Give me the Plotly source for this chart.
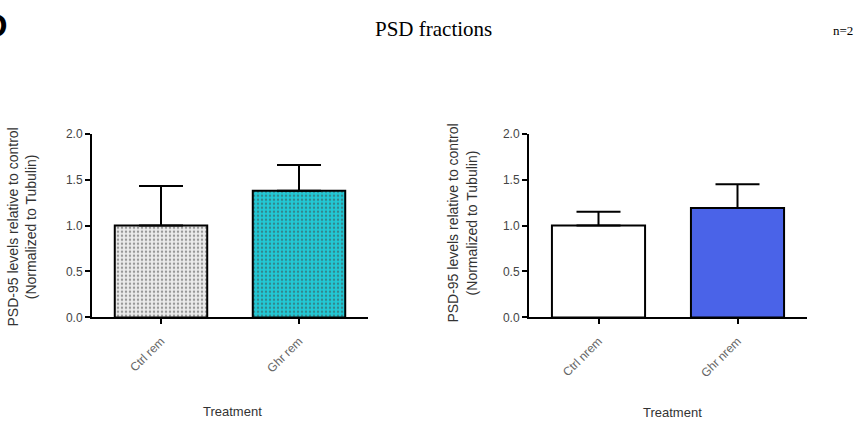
import plotly.graph_objects as go

categories_left = ["Ctrl rem", "Ghr rem"]
values_left = [1.0, 1.38]
errors_left = [0.43, 0.28]

categories_right = ["Ctrl nrem", "Ghr nrem"]
values_right = [1.0, 1.19]
errors_right = [0.15, 0.26]

y_ticks = [0.0, 0.5, 1.0, 1.5, 2.0]
y_title = "PSD-95 levels relative to control<br>(Normalized to Tubulin)"
x_title = "Treatment"

W, H = 866, 425
def px(x):
    return x / W
def py(y):
    return 1 - y / H

fig = go.Figure()

fig.add_trace(go.Bar(
    x=categories_left, y=values_left, width=0.67,
    marker=dict(color=["#ececec", "#22c9d6"],
                line=dict(color="black", width=2),
                pattern=dict(shape=[".", "."], fgcolor=["#b4b4b4", "#12a6b2"],
                             bgcolor=["#f2f2f2", "#24ccd9"], size=4, solidity=0.3)),
    error_y=dict(type="data", array=errors_left, arrayminus=[0, 0], symmetric=False,
                 color="black", thickness=2, width=22),
    xaxis="x", yaxis="y", showlegend=False,
))

fig.add_trace(go.Bar(
    x=categories_right, y=values_right, width=0.67,
    marker=dict(color=["#ffffff", "#4a63e8"], line=dict(color="black", width=2)),
    error_y=dict(type="data", array=errors_right, arrayminus=[0, 0], symmetric=False,
                 color="black", thickness=2, width=22),
    xaxis="x2", yaxis="y2", showlegend=False,
))

ydom = [py(321), py(131)]
axis_common = dict(showline=True, linecolor="black", linewidth=2, ticks="outside",
                   ticklen=5, tickwidth=2, tickcolor="black", showgrid=False, zeroline=False,
                   tickfont=dict(family="Liberation Sans", size=12, color="#444444"))
xtick_font = dict(family="Liberation Sans", size=12, color="#666666")

fig.update_layout(
    width=W, height=H, margin=dict(l=0, r=0, t=0, b=0),
    paper_bgcolor="white", plot_bgcolor="white",
    xaxis=dict(domain=[px(92), px(368)], range=[-0.5, 1.5], anchor="y", tickangle=-45, **axis_common),
    yaxis=dict(domain=ydom, range=[0, 2.0], anchor="x", tickvals=y_ticks, tickformat=".1f", **axis_common),
    xaxis2=dict(domain=[px(529), px(807)], range=[-0.5, 1.5], anchor="y2", tickangle=-45, **axis_common),
    yaxis2=dict(domain=ydom, range=[0, 2.0], anchor="x2", tickvals=y_ticks, tickformat=".1f", **axis_common),
)
fig.update_xaxes(tickfont=xtick_font, ticklabelstandoff=5)

ann_font = dict(family="Liberation Sans", size=13, color="#333333")
ytitle_font = dict(family="Liberation Sans", size=14, color="#333333")
annotations = [
    dict(text="PSD fractions", x=px(433), y=py(23), xref="paper", yref="paper", showarrow=False,
         font=dict(family="Liberation Serif", size=21, color="black"), xanchor="center", yanchor="middle"),
    dict(text="n=2", x=px(843), y=py(24), xref="paper", yref="paper", showarrow=False,
         font=dict(family="Liberation Serif", size=13, color="black"), xanchor="center", yanchor="middle"),
    dict(text="<b>D</b>", x=px(10), y=py(19), xref="paper", yref="paper", showarrow=False,
         font=dict(family="Liberation Sans", size=34, color="black"), xanchor="right", yanchor="middle"),
    dict(text=y_title, x=px(22), y=py(228), xref="paper", yref="paper", showarrow=False, textangle=-90,
         font=ytitle_font, xanchor="center", yanchor="middle"),
    dict(text=y_title, x=px(462), y=py(224), xref="paper", yref="paper", showarrow=False, textangle=-90,
         font=ytitle_font, xanchor="center", yanchor="middle"),
    dict(text=x_title, x=px(232), y=py(418), xref="paper", yref="paper", showarrow=False,
         font=ann_font, xanchor="center", yanchor="middle"),
    dict(text=x_title, x=px(672), y=py(419), xref="paper", yref="paper", showarrow=False,
         font=ann_font, xanchor="center", yanchor="middle"),
]
fig.update_layout(annotations=annotations)

fig.write_html("out.html", config={"displayModeBar": False},
               post_script="document.body.style.margin='0px';document.body.style.overflow='hidden';")
